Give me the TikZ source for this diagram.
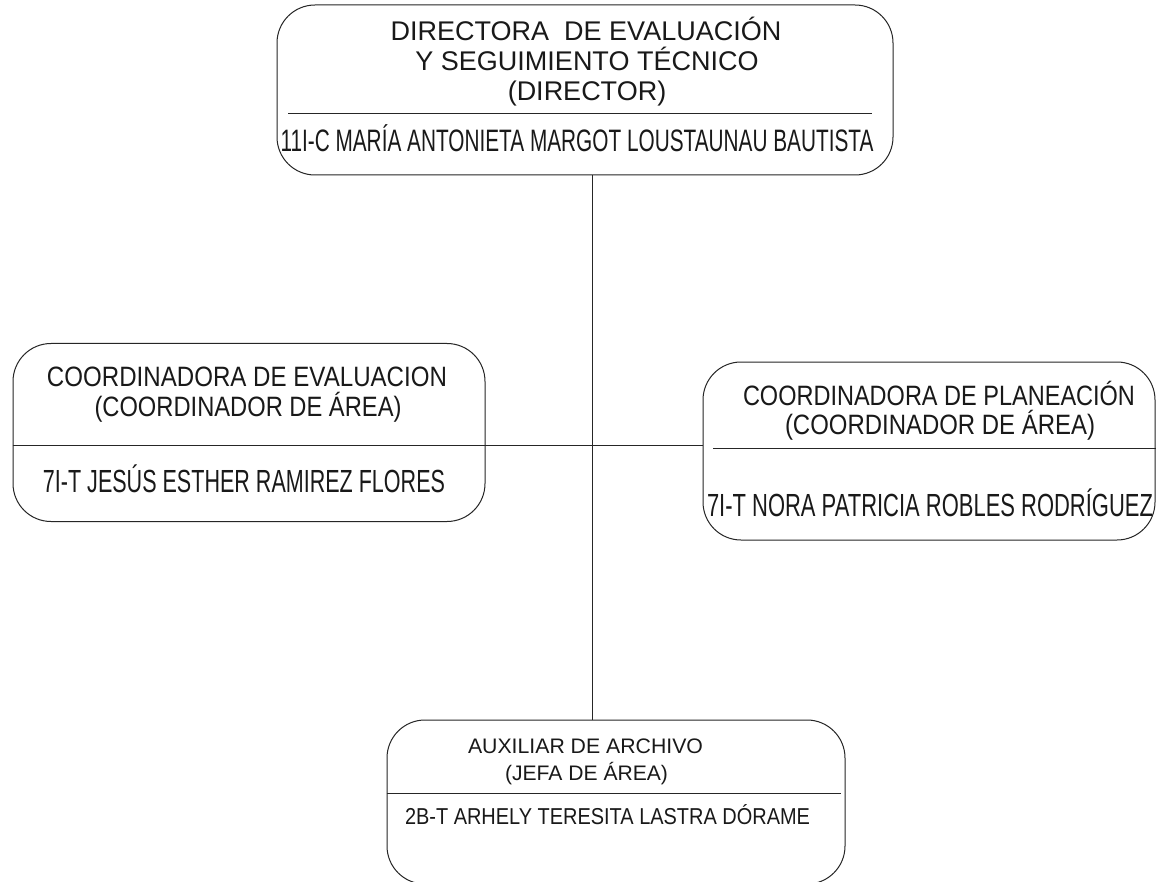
\documentclass[tikz,border=0pt]{standalone}
\usepackage{fontspec}
\setmainfont{Liberation Sans}
\usepackage{graphicx}
\newcommand\fitw[3]{\begingroup\fontsize{#2}{#2}\selectfont\setbox0\hbox{#3}\pgfmathsetmacro\fitfac{#1/\the\wd0}\scalebox{\fitfac}[1]{\box0}\endgroup}
\newcommand\sclt[3]{\begingroup\fontsize{#2}{#2}\selectfont\scalebox{#1}[1]{#3}\endgroup}
\begin{document}
\begin{tikzpicture}[x=1pt,y=-1pt,
  box/.style={draw=black!85, line width=1pt, rounded corners=38pt, inner sep=0pt},
  txt/.style={anchor=base, inner sep=0pt, text=black!90},
  ln/.style={draw=black!85, line width=0.9pt}]
\clip (0,0) rectangle (1156,882);
\fill[white] (0,0) rectangle (1156,882);
% boxes
\node[box, minimum width=616pt, minimum height=170pt] (top) at (585,90) {};
\node[box, minimum width=472pt, minimum height=178pt] (left) at (249,432.5) {};
\node[box, minimum width=452pt, minimum height=178pt] (right) at (929,451) {};
\node[box, minimum width=458pt, minimum height=164pt] (bot) at (616,802) {};
% dividers
\draw[ln] (288,113) -- (872,113);
\draw[ln] (left.west |- 0,445) -- (left.east |- 0,445);
\draw[ln] (713,448) -- (right.east |- 0,448);
\draw[ln] (bot.west |- 0,793) -- (841,793);
% connectors
\coordinate (hub) at (592,445);
\draw[ln] (top.south -| hub) -- (bot.north -| hub);
\draw[ln] (left.east |- hub) -- (right.west |- hub);
% top texts
\node[txt] (t1) at (586,41) {\sclt{1}{27}{DIRECTORA\ \ DE EVALUACIÓN}};
\node[txt] (t2) at (587,71) {\sclt{1}{27}{Y SEGUIMIENTO TÉCNICO}};
\node[txt] (t3) at (587,101) {\sclt{1}{27}{(DIRECTOR)}};
\node[txt] (t4) at (577,152) {\fitw{593}{31}{11I-C MARÍA ANTONIETA MARGOT LOUSTAUNAU BAUTISTA}};
% left texts
\node[txt] (l1) at (247,386) {\fitw{400}{28}{COORDINADORA DE EVALUACION}};
\node[txt] (l2) at (248,416) {\fitw{307}{28}{(COORDINADOR DE ÁREA)}};
\node[txt] (l3) at (244,492.5) {\fitw{402}{32}{7I-T JESÚS ESTHER RAMIREZ FLORES}};
% right texts
\node[txt] (r1) at (939,405) {\fitw{392}{28}{COORDINADORA DE PLANEACIÓN}};
\node[txt] (r2) at (940,434) {\fitw{310}{28}{(COORDINADOR DE ÁREA)}};
\node[txt] (r3) at (930,516.5) {\fitw{446}{32}{7I-T NORA PATRICIA ROBLES RODRÍGUEZ}};
% bottom texts
\node[txt] (b1) at (585.5,753.5) {\fitw{235}{21}{AUXILIAR DE ARCHIVO}};
\node[txt] (b2) at (586.5,780.5) {\fitw{163}{21}{(JEFA DE ÁREA)}};
\node[txt] (b3) at (607.5,824) {\fitw{405}{23}{2B-T ARHELY TERESITA LASTRA DÓRAME}};
\end{tikzpicture}
\end{document}
